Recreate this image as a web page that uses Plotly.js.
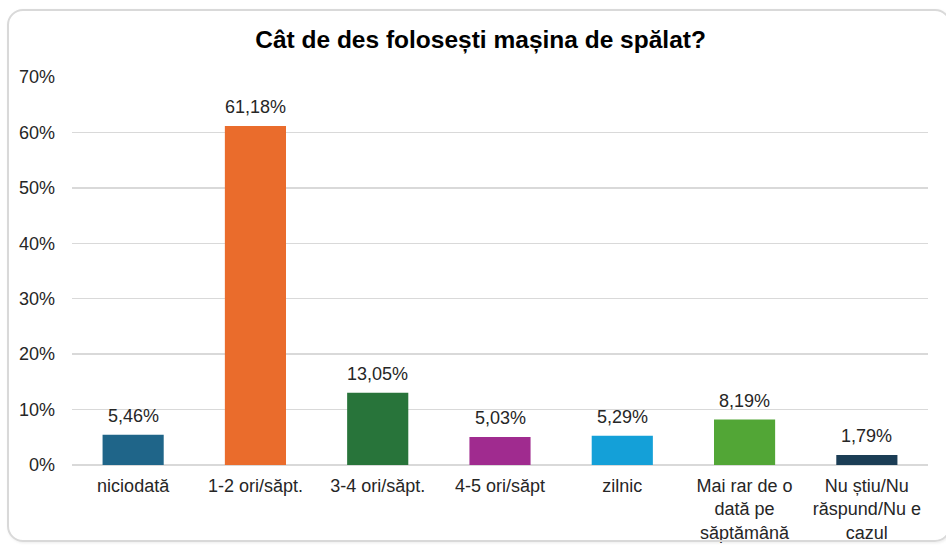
<!DOCTYPE html>
<html>
<head>
<meta charset="utf-8">
<script src="https://cdn.plot.ly/plotly-3.0.1.min.js"></script>
<style>
  html, body { margin: 0; padding: 0; background: #ffffff; }
  #wrap { position: relative; width: 946px; height: 547px; }
  #chart { position: absolute; left: 0; top: 0; width: 946px; height: 547px; }
  #frame { position: absolute; left: 7px; top: 9px; width: 944px; height: 533px;
           border: 2px solid #d9d9d9; border-radius: 16px; box-sizing: border-box;
           pointer-events: none; box-shadow: 1px 1px 3px rgba(0,0,0,0.08); }
</style>
</head>
<body>
<div id="wrap">
  <div id="chart"></div>
  <div id="frame"></div>
</div>
<script>
const categories = [
  "niciodată",
  "1-2 ori/săpt.",
  "3-4 ori/săpt.",
  "4-5 ori/săpt",
  "zilnic",
  "Mai rar de o<br>dată pe<br>săptămână",
  "Nu știu/Nu<br>răspund/Nu e<br>cazul"
];
const values = [5.46, 61.18, 13.05, 5.03, 5.29, 8.19, 1.79];
const barColors = ["#1f6589", "#ea6c2c", "#28743a", "#a02b8f", "#14a0d8", "#52a636", "#1b3d55"];
const yTickValues = [0, 10, 20, 30, 40, 50, 60, 70];

const fontFamily = '"Liberation Sans", Arial, sans-serif';
const textColor = '#262626';

const trace = {
  type: 'bar',
  x: categories,
  y: values,
  marker: { color: barColors, line: { width: 0 } },
  hoverinfo: 'none',
  cliponaxis: false
};

const annotations = categories.map((c, i) => ({
  x: c,
  y: values[i],
  xref: 'x',
  yref: 'y',
  text: values[i].toFixed(2).replace('.', ',') + '%',
  showarrow: false,
  yanchor: 'bottom',
  yshift: 7,
  font: { family: fontFamily, size: 18, color: textColor }
}));

const layout = {
  width: 946,
  height: 547,
  paper_bgcolor: 'rgba(0,0,0,0)',
  plot_bgcolor: 'rgba(0,0,0,0)',
  margin: { l: 72, r: 18, t: 77, b: 82 },
  showlegend: false,
  bargap: 0.5,
  title: {
    text: '<b>Cât de des folosești mașina de spălat?</b>',
    font: { family: fontFamily, size: 24.5, color: '#000000' },
    x: 0.508,
    xanchor: 'center',
    y: 0.928,
    yanchor: 'middle'
  },
  xaxis: {
    type: 'category',
    tickfont: { family: fontFamily, size: 18, color: textColor },
    showgrid: false,
    showline: false,
    zeroline: false,
    ticks: '',
    ticklabelstandoff: 8
  },
  yaxis: {
    range: [0, 70],
    tickvals: yTickValues,
    ticktext: yTickValues.map(v => v + '%'),
    tickfont: { family: fontFamily, size: 18, color: textColor },
    showgrid: true,
    gridcolor: '#d9d9d9',
    gridwidth: 1.5,
    zeroline: true,
    zerolinecolor: '#d9d9d9',
    zerolinewidth: 1.5,
    showline: false,
    ticks: '',
    ticklabelstandoff: 16
  },
  annotations: annotations
};

Plotly.newPlot('chart', [trace], layout, { displayModeBar: false, staticPlot: true });
</script>
</body>
</html>
